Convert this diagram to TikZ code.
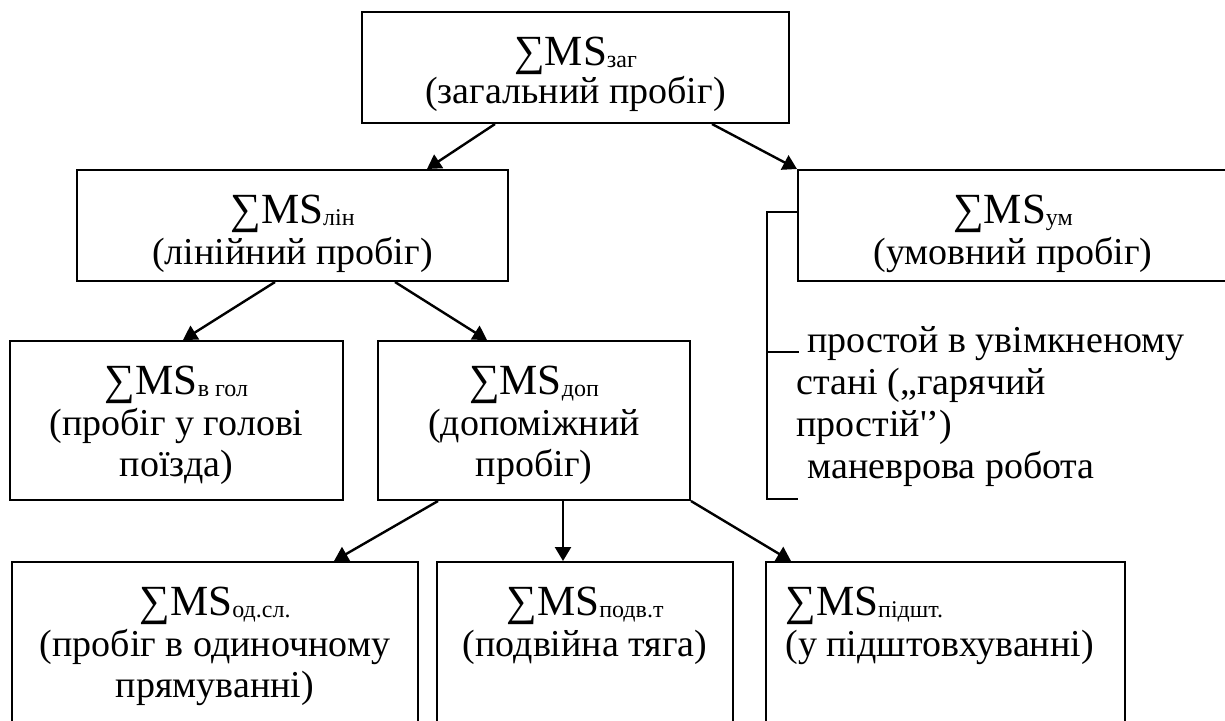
\documentclass[tikz,border=0pt]{standalone}
\usepackage{fontspec}
\setmainfont{Liberation Serif}
\usetikzlibrary{positioning,arrows.meta}

% розміри шрифтів для позначень
\newcommand{\sumfont}{\fontsize{21.5}{20.5}\selectfont}
\newcommand{\indfont}{\fontsize{12}{20.5}\selectfont}
\newcommand{\ms}[1]{{\sumfont ∑MS}{\indfont\raisebox{-1pt}{#1}}}

\begin{document}
\begin{tikzpicture}[x=0.5pt,y=-0.5pt,
    blok/.style={draw, line width=1pt, inner sep=0pt},
    tekst/.style={align=center, inner sep=0pt, font=\fontsize{19}{20.5}\selectfont},
    strilka/.style={-{Triangle[length=7pt,width=8pt]}, line width=1.2pt}]
    \path[use as bounding box, clip] (0,0) rectangle (1225,720);
    % Блоки схеми
    \node[blok, minimum width=213.5pt, minimum height=55.5pt] (zag) at (575.5,67.5) {};
    \node[blok, minimum width=215.5pt, minimum height=55.5pt] (lin) at (292.5,225.5) {};
    \node[blok, minimum width=215pt, minimum height=55.5pt] (um) at (1013,225.5) {};
    \node[blok, minimum width=166.5pt, minimum height=79.5pt] (gol) at (176.5,420.5) {};
    \node[blok, minimum width=156pt, minimum height=79.5pt] (dop) at (534,420.5) {};
    \node[blok, minimum width=203pt, minimum height=85pt] (odsl) at (215,647) {};
    \node[blok, minimum width=148pt, minimum height=85pt] (podv) at (585,647) {};
    \node[blok, minimum width=179.5pt, minimum height=85pt] (pidsh) at (945.5,647) {};
    % Написи в блоках
    \node[tekst, below=13pt of zag.north] (zagt) {\ms{заг}\\[-1.5pt](загальний пробіг)};
    \node[tekst, below=13pt of lin.north] (lint) {\ms{лін}\\(лінійний пробіг)};
    \node[tekst, below=13pt of um.north] (umt) {\ms{ум}\\(умовний пробіг)};
    \node[tekst, below=13pt of gol.north] (golt) {\ms{в гол}\\(пробіг у голові\\поїзда)};
    \node[tekst, below=13pt of dop.north] (dopt) {\ms{доп}\\(допоміжний\\пробіг)};
    \node[tekst, below=13pt of odsl.north] (odslt) {\ms{од.сл.}\\(пробіг в одиночному\\прямуванні)};
    \node[tekst, below=13pt of podv.north] (podvt) {\ms{подв.т}\\(подвійна тяга)};
    \node[tekst, align=left, below right=13pt and 10pt of pidsh.north west] (pidsht) {\ms{підшт.}\\(у підштовхуванні)};
    % Складові умовного пробігу
    \node[tekst, align=left, anchor=north west, font=\fontsize{19}{21}\selectfont] (prostij) at (796,326)
        {\hspace*{5.5pt}простой в увімкненому\\стані („гарячий\\простій\textquotesingle’)\\\hspace*{5.5pt}маневрова робота};
    \draw[line width=1pt] (um.west |- 0,212) -| (767,499) -- (798,499);
    \draw[line width=1pt] (767,352) -- (799,352);
    % Стрілки
    \draw[strilka] (zag.south -| 495,0) -- (lin.north -| 427,0);
    \draw[strilka] (zag.south -| 712,0) -- (um.north west);
    \draw[strilka] (lin.south -| 275,0) -- (gol.north -| 183,0);
    \draw[strilka] (lin.south -| 395,0) -- (dop.north -| 487,0);
    \draw[strilka] (dop.south -| 438,0) -- (odsl.north -| 334,0);
    \draw[strilka] (dop.south -| 563,0) -- (podv.north -| 563,0);
    \draw[strilka] (dop.south east) -- (pidsh.north -| 791,0);
\end{tikzpicture}
\end{document}
